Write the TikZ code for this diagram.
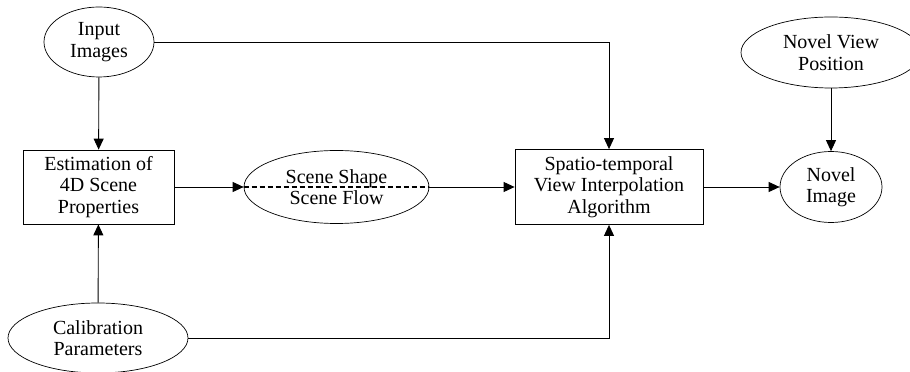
\documentclass[tikz,border=0pt]{standalone}
\usepackage{fontspec}
\setmainfont{Liberation Serif}
\usetikzlibrary{shapes.geometric,arrows.meta}
\begin{document}
\begin{tikzpicture}[x=1pt,y=1pt,
  every node/.style={align=center,font=\fontsize{20}{21.5}\selectfont,inner sep=0pt},
  oval/.style={draw,ellipse,line width=0.7pt},
  block/.style={draw,rectangle,line width=0.8pt},
  flow/.style={line width=0.9pt,-{Triangle[length=11pt,width=10pt]}}]
\useasboundingbox (0,0) rectangle (910,372);
%inputs
\node[oval,minimum width=110,minimum height=70] (inimg) at (99,330) {Input\\Images};
\node[oval,minimum width=180,minimum height=70] (calib) at (98,34) {Calibration\\Parameters};
%estimation
\node[block,minimum width=151,minimum height=74] (est) at (98.5,185) {Estimation of\\4D Scene\\Properties};
\node[oval,minimum width=185,minimum height=73] (scene) at (336.5,185) {Scene Shape\\Scene Flow};
%interpolation
\node[block,minimum width=188,minimum height=75] (interp) at (609,185) {Spatio-temporal\\View Interpolation\\Algorithm};
\node[oval,minimum width=102,minimum height=71] (novimg) at (831,185) {Novel\\Image};
\node[oval,minimum width=180,minimum height=71] (novpos) at (831,319.5) {Novel View\\Position};
%connectors
\draw[flow] (inimg) -- (est);
\draw[flow] (calib) -- (est);
\draw[flow] (est) -- (scene.west);
\draw[line width=1.5pt,dash pattern=on 5pt off 3pt] (scene.west) -- (scene.east);
\draw[flow] (scene.east) -- (interp);
\draw[flow] (interp) -- (novimg);
\draw[flow] (novpos) -- (novimg);
\draw[flow] (inimg.east) -| (interp.north);
\draw[flow] (calib.east) -| (interp.south);
\end{tikzpicture}
\end{document}
